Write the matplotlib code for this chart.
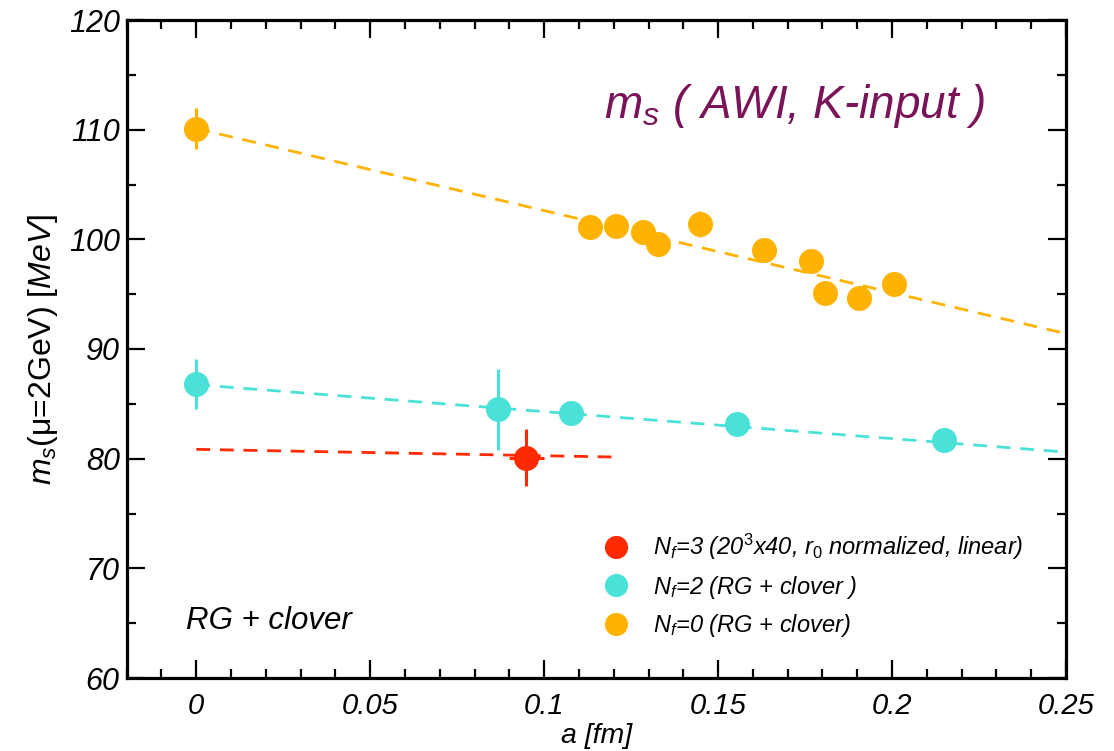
import matplotlib
matplotlib.use("Agg")
import matplotlib.pyplot as plt
from matplotlib.ticker import MultipleLocator, FixedLocator

plt.rcParams['font.family'] = ['Liberation Sans', 'DejaVu Sans']
plt.rcParams['mathtext.fontset'] = 'custom'
plt.rcParams['mathtext.it'] = 'Liberation Sans:italic'
plt.rcParams['mathtext.rm'] = 'Liberation Sans'
plt.rcParams['mathtext.sf'] = 'Liberation Sans'

# ---- data ----
nf0_a = [0.0, 0.1131, 0.1206, 0.1285, 0.1328, 0.1448, 0.1632, 0.1766, 0.1808, 0.1905, 0.2006]
nf0_m = [110.1, 101.16, 101.22, 100.65, 99.58, 101.4, 99.03, 98.03, 95.14, 94.63, 95.93]
nf0_err = [1.9, 1.0, 0.9, 1.0, 0.9, 1.2, 1.0, 1.0, 1.0, 0.9, 1.0]

nf2_a = [0.0, 0.0866, 0.1077, 0.1555, 0.215]
nf2_m = [86.8, 84.5, 84.2, 83.17, 81.7]
nf2_err = [2.3, 3.7, 0.8, 0.8, 0.7]

nf3_a = [0.0949]
nf3_m = [80.1]
nf3_err = [2.6]
nf3_aerr = [0.005]

fit0_a = [0.0, 0.25]
fit0_m = [110.1, 91.4]
fit2_a = [0.0, 0.25]
fit2_m = [86.75, 80.6]
fit3_a = [0.0, 0.12]
fit3_m = [80.85, 80.15]

labels = [r"$N_f$=3 (20$^3$x40, $r_0$ normalized, linear)",
          r"$N_f$=2 (RG + clover )",
          r"$N_f$=0 (RG + clover)"]

c_red = "#ff2a00"
c_cyan = "#4ae2d8"
c_orange = "#ffb300"

fig = plt.figure(figsize=(11.14, 7.51), dpi=100)
ax = fig.add_axes([126.7/1114, 1-678/751, (1066-126.7)/1114, (678-20)/751])

dash = (0, (5, 3.5))
ax.plot(fit0_a, fit0_m, color=c_orange, lw=2.0, linestyle=dash, zorder=1)
ax.plot(fit2_a, fit2_m, color=c_cyan, lw=2.0, linestyle=dash, zorder=1)
ax.plot(fit3_a, fit3_m, color=c_red, lw=2.0, linestyle=dash, zorder=1)

ms = 17
h3 = ax.errorbar(nf3_a, nf3_m, yerr=nf3_err, xerr=nf3_aerr, fmt='o', color=c_red, ms=ms,
                 elinewidth=2.2, capsize=0, zorder=3)
h2 = ax.errorbar(nf2_a, nf2_m, yerr=nf2_err, fmt='o', color=c_cyan, ms=ms,
                 elinewidth=2.2, capsize=0, zorder=3)
h0 = ax.errorbar(nf0_a, nf0_m, yerr=nf0_err, fmt='o', color=c_orange, ms=ms,
                 elinewidth=2.2, capsize=0, zorder=3)

ax.set_xlim(-0.02, 0.25)
ax.set_ylim(60, 120)
ax.xaxis.set_major_locator(FixedLocator([0, 0.05, 0.1, 0.15, 0.2, 0.25]))
ax.xaxis.set_minor_locator(MultipleLocator(0.01))
ax.yaxis.set_major_locator(MultipleLocator(10))
ax.yaxis.set_minor_locator(MultipleLocator(5))
ax.set_xticklabels(["0", "0.05", "0.1", "0.15", "0.2", "0.25"])

ax.tick_params(which='both', direction='in', top=True, right=True, width=1.6)
ax.tick_params(which='major', length=13)
ax.tick_params(which='minor', length=6.5)
ax.tick_params(axis='x', labelsize=21, pad=10)
ax.tick_params(axis='y', labelsize=22, pad=5)
for lab in ax.get_xticklabels() + ax.get_yticklabels():
    lab.set_style('italic')
for s in ax.spines.values():
    s.set_linewidth(2.3)

ax.set_xlabel("a [fm]", fontsize=20.5, style='italic', labelpad=2)
ax.set_ylabel(r"$m_s$(μ=2GeV) $\mathit{[MeV]}$", fontsize=23, labelpad=6)

ax.text(0.711, 0.869, r"$m_s$ ( AWI, K-input )", transform=ax.transAxes,
        fontsize=33, color="#7a1458", style='italic', ha='center', va='center')
ax.text(0.063, 0.087, "RG + clover", transform=ax.transAxes, fontsize=22.5,
        style='italic', ha='left', va='center')

leg = ax.legend([h3[0], h2[0], h0[0]], labels, loc='upper left',
                bbox_to_anchor=(0.4985, 0.236), frameon=False, fontsize=17,
                handletextpad=1.05, labelspacing=0.48, markerscale=0.92,
                handlelength=1.0, borderaxespad=0)
for t in leg.get_texts():
    t.set_style('italic')

fig.savefig("out.png", dpi=100)
